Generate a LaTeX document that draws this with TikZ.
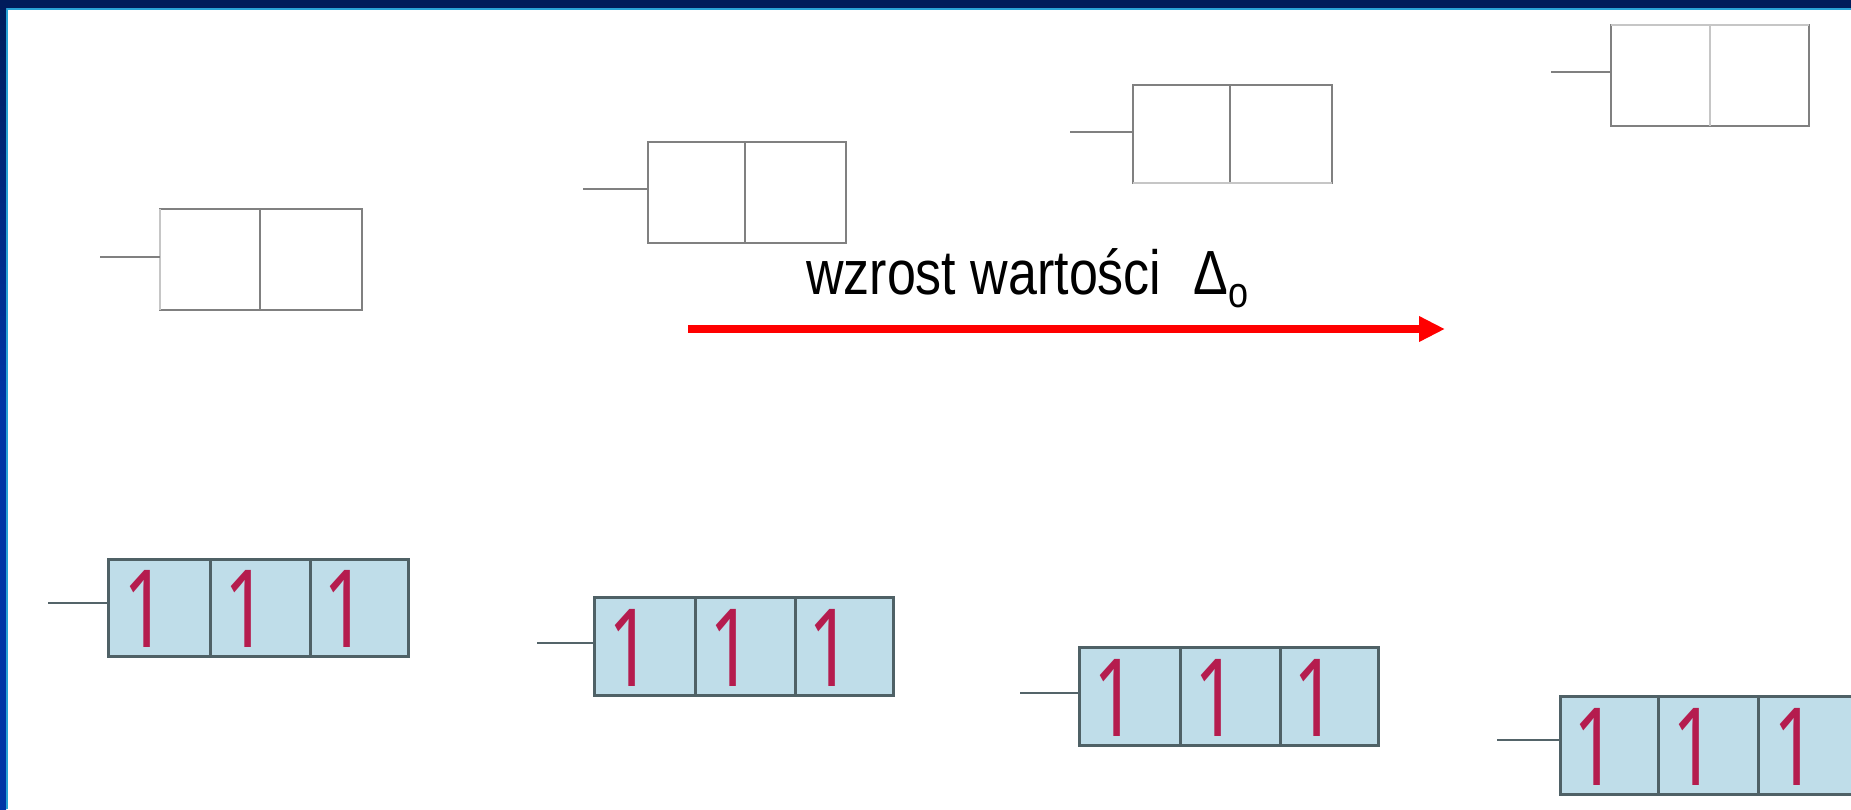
\documentclass[tikz,border=0pt]{standalone}
\usepackage{fontspec}
\setmainfont{Liberation Sans}
\newfontfamily\digitfont{Noto Sans}
\usetikzlibrary{arrows.meta}
\definecolor{navy}{HTML}{001C5A}
\definecolor{royal}{HTML}{0035A5}
\definecolor{cyanline}{HTML}{29A3D6}
\definecolor{boxgray}{HTML}{808080}
\definecolor{lightgray}{HTML}{C6C6C6}
\definecolor{cellblue}{HTML}{BFDDE9}
\definecolor{celledge}{HTML}{4F6166}
\definecolor{digitred}{HTML}{B51C4E}
\tikzset{
  ucell/.style={draw=boxgray, line width=2.5pt, inner sep=0pt, outer sep=0pt, anchor=north west, minimum height=101pt},
  lcell/.style={draw=celledge, fill=cellblue, line width=3pt, inner sep=0pt, outer sep=0pt, anchor=north west, minimum height=98pt, minimum width=100pt},
  stubU/.style={draw=boxgray, line width=2.5pt},
  stubL/.style={draw=celledge!90!gray, line width=2.5pt},
  digit/.style={text=digitred, inner sep=0pt, anchor=base, font=\digitfont\fontsize{108}{108}\selectfont},
  arrowred/.style={draw=red, line width=8pt, -{Triangle[length=26pt,width=24pt]}},
  lbl/.style={anchor=base west, inner sep=0pt, font=\fontsize{52}{52}\selectfont}
}
\newcommand{\one}{\scalebox{0.7}[1]{1}}
\begin{document}
\begin{tikzpicture}[x=1pt,y=-1pt]
\useasboundingbox (0,0) rectangle (1851,809);
\fill[white] (0,0) rectangle (1851,809);
% frame
\fill[navy] (0,0) rectangle (1851,8);
\fill[cyanline] (0,8) rectangle (1851,10);
\shade[top color=navy, bottom color=royal, middle color=royal] (0,0) rectangle (6,809);
\fill[cyanline] (6,10) rectangle (8,809);

% upper boxes
\node[ucell, minimum width=100pt] (u1a) at (160,209) {};
\node[ucell, minimum width=102pt] (u1b) at (260,209) {};
\draw[lightgray, line width=2.5pt] (u1a.north west) -- (u1a.south west);
\coordinate (s1) at (100,257);
\draw[stubU] (s1) -- (s1 -| u1a.west);

\node[ucell, minimum width=97pt] (u2a) at (648,142) {};
\node[ucell, minimum width=101pt] (u2b) at (745,142) {};
\coordinate (s2) at (583,189);
\draw[stubU] (s2) -- (s2 -| u2a.west);

\node[ucell, minimum width=97pt, minimum height=98pt] (u3a) at (1133,85) {};
\node[ucell, minimum width=102pt, minimum height=98pt] (u3b) at (1230,85) {};
\draw[lightgray, line width=2.5pt] (u3a.south west) -- (u3b.south east);
\coordinate (s3) at (1070,132);
\draw[stubU] (s3) -- (s3 -| u3a.west);

\node[ucell, minimum width=99pt] (u4a) at (1611,25) {};
\node[ucell, minimum width=99pt] (u4b) at (1710,25) {};
\draw[lightgray, line width=2.5pt] (u4a.north west) -- (u4b.north east);
\draw[lightgray, line width=2.5pt] (u4b.north west) -- (u4b.south west);
\coordinate (s4) at (1551,72);
\draw[stubU] (s4) -- (s4 -| u4a.west);

% label and arrow
\node[lbl] (txt) at (806,294) {\scalebox{1}[1.2]{wzrost wartości\hspace{0.62em}Δ\raisebox{-0.22em}{\fontsize{36}{36}\selectfont o}}};
\coordinate (as) at (688,329);
\coordinate (ae) at (1445,329);
\draw[arrowred] (as) -- (ae);

% lower boxes
\node[lcell, minimum width=102pt, minimum height=97pt] (l1a) at (108,559) {};
\node[lcell, minimum height=97pt] (l1b) at (210,559) {};
\node[lcell, minimum width=98pt, minimum height=97pt] (l1c) at (310,559) {};
\coordinate (t1) at (48,603);
\draw[stubL] (t1) -- (t1 -| l1a.west);

\node[lcell, minimum width=101pt] (l2a) at (594,597) {};
\node[lcell] (l2b) at (695,597) {};
\node[lcell, minimum width=98pt] (l2c) at (795,597) {};
\coordinate (t2) at (537,643);
\draw[stubL] (t2) -- (t2 -| l2a.west);

\node[lcell, minimum width=101pt] (l3a) at (1079,647) {};
\node[lcell] (l3b) at (1180,647) {};
\node[lcell, minimum width=98pt] (l3c) at (1280,647) {};
\coordinate (t3) at (1020,693);
\draw[stubL] (t3) -- (t3 -| l3a.west);

\node[lcell, minimum width=98pt] (l4a) at (1560,696) {};
\node[lcell] (l4b) at (1658,696) {};
\node[lcell, minimum width=102pt] (l4c) at (1758,696) {};
\coordinate (t4) at (1497,740);
\draw[stubL] (t4) -- (t4 -| l4a.west);

% digits
\foreach \c in {l1a,l1b,l1c,l2a,l2b,l2c,l3a,l3b,l3c,l4a,l4b,l4c}{
  \node[digit] (d\c) at ([xshift=-14pt,yshift=9pt]\c.south) {\one};
}
\end{tikzpicture}
\end{document}
